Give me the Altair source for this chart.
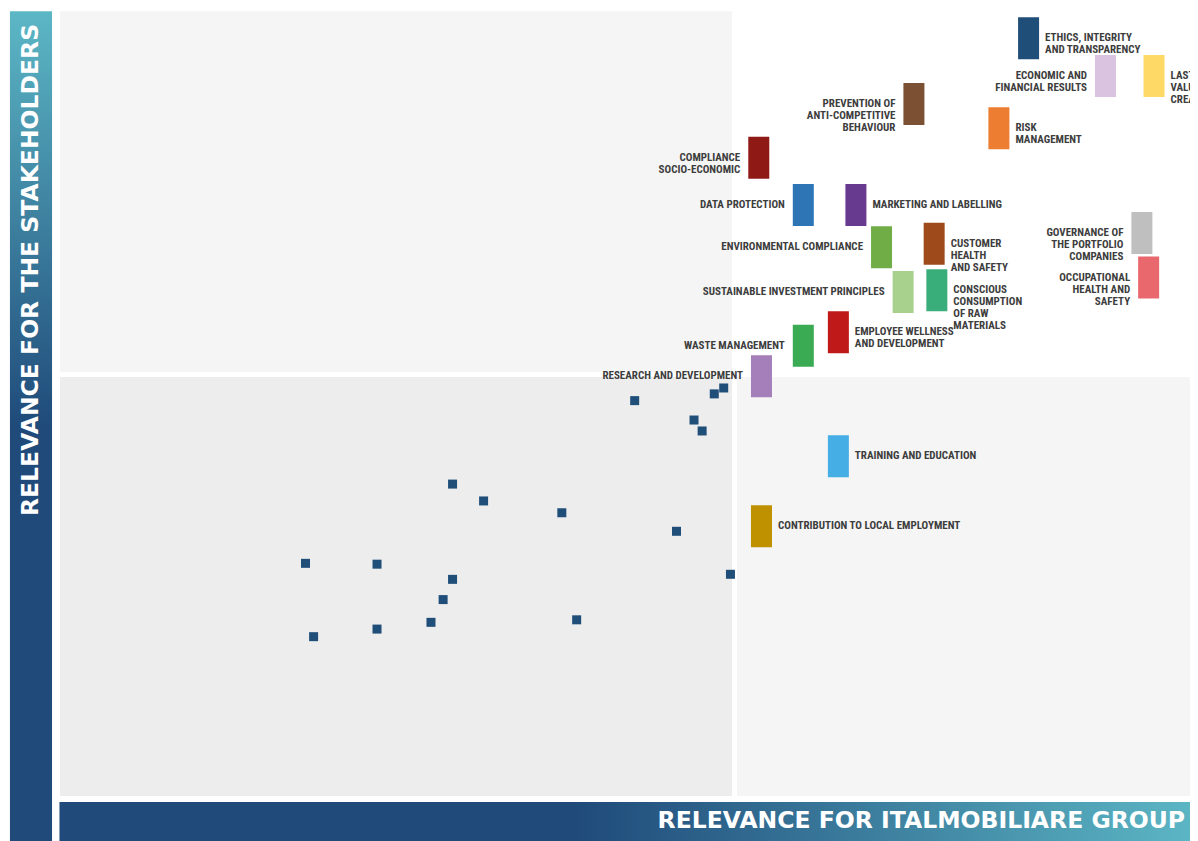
import altair as alt
import pandas as pd

# ---------------- data ----------------
TOPICS = [
    "ETHICS, INTEGRITY\nAND TRANSPARENCY",
    "ECONOMIC AND\nFINANCIAL RESULTS",
    "LASTING\nVALUE\nCREATION",
    "RISK\nMANAGEMENT",
    "PREVENTION OF\nANTI-COMPETITIVE\nBEHAVIOUR",
    "COMPLIANCE\nSOCIO-ECONOMIC",
    "DATA PROTECTION",
    "MARKETING AND LABELLING",
    "ENVIRONMENTAL COMPLIANCE",
    "CUSTOMER\nHEALTH\nAND SAFETY",
    "SUSTAINABLE INVESTMENT PRINCIPLES",
    "CONSCIOUS\nCONSUMPTION\nOF RAW\nMATERIALS",
    "GOVERNANCE OF\nTHE PORTFOLIO\nCOMPANIES",
    "OCCUPATIONAL\nHEALTH AND\nSAFETY",
    "EMPLOYEE WELLNESS\nAND DEVELOPMENT",
    "WASTE MANAGEMENT",
    "RESEARCH AND DEVELOPMENT",
    "TRAINING AND EDUCATION",
    "CONTRIBUTION TO LOCAL EMPLOYMENT",
]
GROUP_RELEVANCE = [7.18, 7.75, 8.11, 6.96, 6.33, 5.18, 5.51, 5.90, 6.09, 6.48,
                   6.25, 6.50, 8.02, 8.07, 5.77, 5.51, 5.20, 5.77, 5.20]
STAKEHOLDER_RELEVANCE = [8.99, 8.54, 8.54, 7.92, 8.21, 7.57, 7.01, 7.01, 6.51, 6.55,
                         5.98, 6.00, 6.68, 6.15, 5.50, 5.34, 4.98, 4.03, 3.20]
LABEL_SIDE = ["right", "left", "right", "right", "left", "left", "left", "right", "left", "right",
              "left", "right", "left", "left", "right", "left", "left", "right", "right"]
TOPIC_COLORS = ["#1f4e79", "#d9c3e0", "#ffd966", "#ed7d31", "#7b5033", "#8f1a15", "#2e75b6",
                "#673a8f", "#70ad47", "#9e4a1a", "#a9d18e", "#3aae7a", "#bfbfbf", "#e8686e",
                "#c01919", "#3aab53", "#a47fb9", "#45aee4", "#bf9000"]

OTHER_GROUP_RELEVANCE = [4.92, 4.85, 4.26, 4.70, 4.76, 2.91, 3.14, 3.72, 4.57,
                         1.82, 2.35, 2.91, 4.97, 2.84, 2.75, 3.83, 2.35, 1.88]
OTHER_STAKEHOLDER_RELEVANCE = [4.84, 4.77, 4.69, 4.46, 4.33, 3.70, 3.50, 3.36, 3.14,
                               2.76, 2.75, 2.57, 2.63, 2.33, 2.06, 2.09, 1.98, 1.89]

X_TITLE = "RELEVANCE FOR ITALMOBILIARE GROUP"
Y_TITLE = "RELEVANCE FOR THE STAKEHOLDERS"

SPLIT = 5.0
X_DOMAIN = [0, 10]
Y_DOMAIN = [0, 10]
TOP = 9.31
RIGHT = 9.6

# quadrants: top-left, bottom-left, bottom-right
QUAD_X0 = [0, 0, SPLIT]
QUAD_X1 = [SPLIT, SPLIT, RIGHT]
QUAD_Y0 = [SPLIT, 0, 0]
QUAD_Y1 = [TOP, SPLIT, SPLIT]
QUAD_FILL = ["#f5f5f5", "#ededed", "#f5f5f5"]

# ---------------- style ----------------
NAVY = "#1f4a7a"
TEAL = "#5cb7c5"
TEXT_COLOR = "#3d3d3d"
LABEL_FONT = "'Liberation Sans Narrow', 'Roboto Condensed', 'Arial Narrow', sans-serif"
TITLE_FONT = "DejaVu Sans"
BAR_HW = 10.5 / 134.9   # half bar width in x units
BAR_HH = 21.0 / 84.3    # half bar height in y units
GAP_R = 16.5 / 134.9
GAP_L = 18.5 / 134.9

xs = alt.Scale(domain=X_DOMAIN, range=[52, 1401], nice=False, zero=False)
ys = alt.Scale(domain=Y_DOMAIN, range=[788, -55], nice=False, zero=False)


def X(f):
    return alt.X(f, type="quantitative", scale=xs, axis=None)


def Y(f):
    return alt.Y(f, type="quantitative", scale=ys, axis=None)


quad_df = pd.DataFrame({"x0": QUAD_X0, "x1": QUAD_X1, "y0": QUAD_Y0, "y1": QUAD_Y1, "fill": QUAD_FILL})
quads = alt.Chart(quad_df).mark_rect().encode(
    x=X("x0"), x2="x1", y=Y("y0"), y2="y1", color=alt.Color("fill:N", scale=None)
)

vrule = alt.Chart(pd.DataFrame({"x": [SPLIT], "y0": [0], "y1": [TOP]})).mark_rule(
    color="white", strokeWidth=5
).encode(x=X("x"), y=Y("y0"), y2="y1")
hrule = alt.Chart(pd.DataFrame({"y": [SPLIT], "x0": [0], "x1": [RIGHT]})).mark_rule(
    color="white", strokeWidth=5
).encode(y=Y("y"), x=X("x0"), x2="x1")

# axis bands
left_band = alt.Chart(pd.DataFrame({"x0": [-0.371], "x1": [-0.059], "y0": [-0.6], "y1": [TOP]})).mark_rect(
    color=alt.LinearGradient(
        gradient="linear",
        stops=[alt.GradientStop(color=TEAL, offset=0), alt.GradientStop(color=NAVY, offset=0.5),
               alt.GradientStop(color=NAVY, offset=1)],
        x1=0, x2=0, y1=0, y2=1,
    )
).encode(x=X("x0"), x2="x1", y=Y("y0"), y2="y1")

bottom_band = alt.Chart(pd.DataFrame({"x0": [-0.004], "x1": [8.45], "y0": [-0.6], "y1": [-0.071]})).mark_rect(
    color=alt.LinearGradient(
        gradient="linear",
        stops=[alt.GradientStop(color=NAVY, offset=0), alt.GradientStop(color=NAVY, offset=0.45),
               alt.GradientStop(color=TEAL, offset=1)],
        x1=0, x2=1, y1=0, y2=0,
    )
).encode(x=X("x0"), x2="x1", y=Y("y0"), y2="y1")

y_title = alt.Chart(pd.DataFrame({"x": [-0.215], "y": [6.24], "t": [Y_TITLE]})).mark_text(
    angle=270, align="center", baseline="middle", font=TITLE_FONT, fontWeight="bold",
    fontSize=23.5, color="white"
).encode(x=X("x"), y=Y("y"), text="t:N")

x_title = alt.Chart(pd.DataFrame({"x": [8.34], "y": [-0.30], "t": [X_TITLE]})).mark_text(
    align="right", baseline="middle", font=TITLE_FONT, fontWeight="bold",
    fontSize=23.5, color="white"
).encode(x=X("x"), y=Y("y"), text="t:N")

# other topics (small squares)
other_df = pd.DataFrame({"gx": OTHER_GROUP_RELEVANCE, "sy": OTHER_STAKEHOLDER_RELEVANCE})
squares = alt.Chart(other_df).mark_square(size=81, color="#1f4e79", opacity=1).encode(
    x=X("gx"), y=Y("sy")
)

# material topics (bars + labels)
topic_df = pd.DataFrame({
    "topic": TOPICS, "gx": GROUP_RELEVANCE, "sy": STAKEHOLDER_RELEVANCE,
    "side": LABEL_SIDE, "col": TOPIC_COLORS,
})
base = alt.Chart(topic_df)
bars = base.transform_calculate(
    x0=f"datum.gx - {BAR_HW}", x1=f"datum.gx + {BAR_HW}",
    y0=f"datum.sy - {BAR_HH}", y1=f"datum.sy + {BAR_HH}",
).mark_rect().encode(
    x=X("x0"), x2="x1", y=Y("y0"), y2="y1", color=alt.Color("col:N", scale=None)
)

text_kw = dict(baseline="middle", font=LABEL_FONT, fontWeight="bold", fontSize=11,
               lineHeight=12, lineBreak="\n", color=TEXT_COLOR)
labels_right = base.transform_filter("datum.side == 'right'").transform_calculate(
    lx=f"datum.gx + {GAP_R}"
).mark_text(align="left", **text_kw).encode(x=X("lx"), y=Y("sy"), text="topic:N")
labels_left = base.transform_filter("datum.side == 'left'").transform_calculate(
    lx=f"datum.gx - {GAP_L}"
).mark_text(align="right", **text_kw).encode(x=X("lx"), y=Y("sy"), text="topic:N")

chart = alt.layer(
    quads, vrule, hrule, left_band, bottom_band, y_title, x_title,
    squares, bars, labels_right, labels_left,
).properties(
    width=1182, height=833, padding=0, autosize=alt.AutoSizeParams(type="none")
).configure_view(stroke=None)

chart.save("out.html", embed_options={"renderer": "svg", "actions": False})
